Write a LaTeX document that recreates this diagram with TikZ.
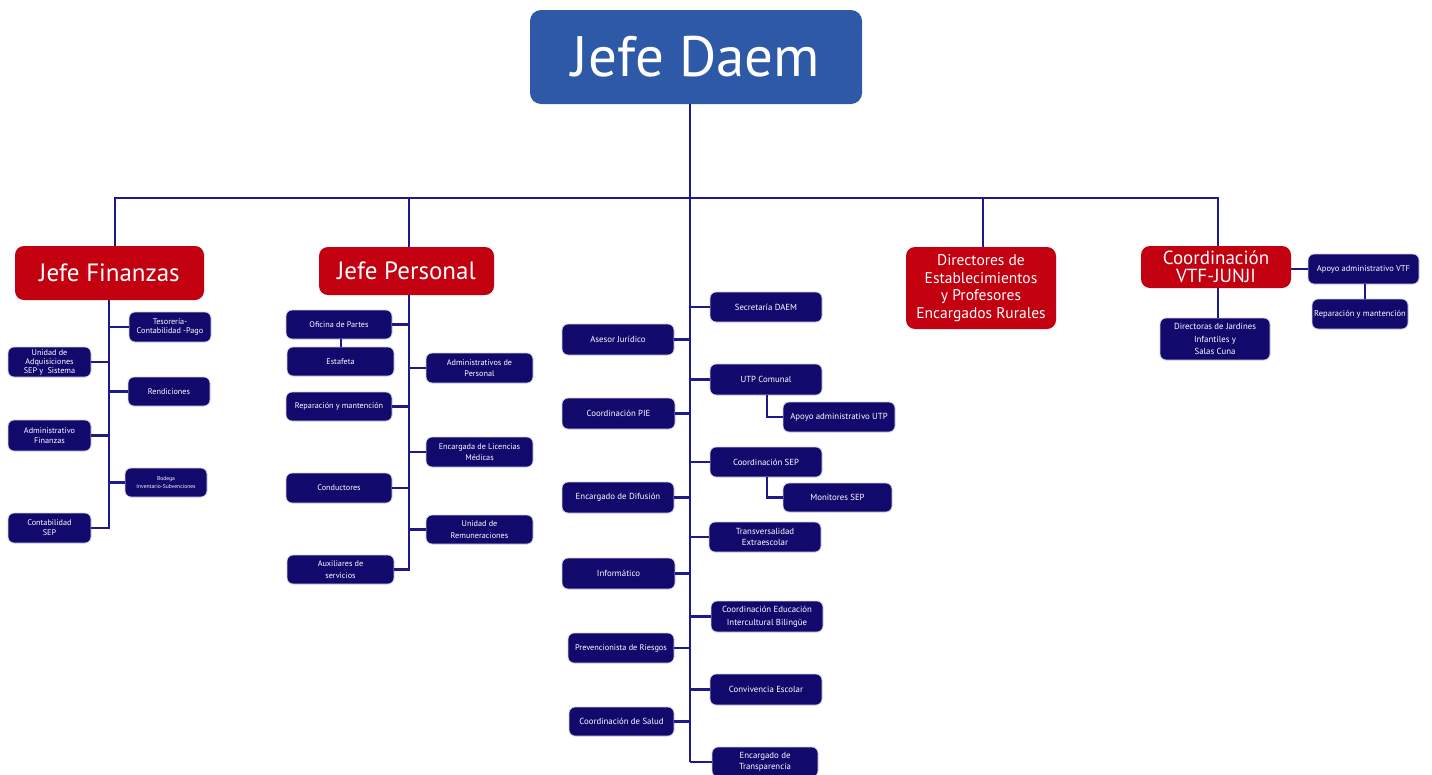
\documentclass[tikz,border=0pt]{standalone}
\usepackage{fontspec}
\setmainfont{PT Sans}
\definecolor{navy}{HTML}{12096C}
\definecolor{lnavy}{HTML}{1E1A8C}
\definecolor{dred}{HTML}{C2000F}
\definecolor{dblue}{HTML}{2E59A7}
\tikzset{
  nbox/.style={draw=white!80!lnavy, line width=0.8pt, fill=navy, rounded corners=6pt, text=white, align=center, inner sep=1pt, outer sep=0pt, font=\fontsize{8.8}{10.5}\selectfont},
  rbox/.style={fill=dred, rounded corners=9pt, text=white, align=center, inner sep=1pt, outer sep=0pt},
  bbox/.style={fill=dblue, rounded corners=11pt, text=white, align=center, inner sep=1pt, outer sep=0pt},
  trunk/.style={draw=lnavy, line width=2.9pt},
  bus/.style={draw=lnavy, line width=2.2pt},
}
\newcommand\boxat[7]{\node[#1, minimum width={#5-#3}, minimum height={#6-#4}] (#2) at ({(#3+#5)/2},{(#4+#6)/2}) {#7};}
\begin{document}
\begin{tikzpicture}[x=1pt,y=-1pt]
\useasboundingbox (0,0) rectangle (1432,774);
% top
\boxat{bbox, font=\fontsize{57}{60}\selectfont}{daem}{530}{10}{862}{104}{Jefe Daem}
% level 1
\boxat{rbox, font=\fontsize{25}{27}\selectfont}{fin}{15}{246}{204}{300}{Jefe Finanzas}
\boxat{rbox, font=\fontsize{25}{27}\selectfont}{per}{319}{247}{494}{295}{Jefe Personal}
\boxat{rbox, font=\fontsize{15.5}{17.5}\selectfont}{dir}{906}{247}{1056}{329}{Directores de\\Establecimientos\\y Profesores\\Encargados Rurales}
\boxat{rbox, font=\fontsize{19}{18.5}\selectfont}{vtf}{1141}{246}{1291}{288}{Coordinación\\VTF-JUNJI}
% finanzas children
\boxat{nbox, font=\fontsize{8.2}{9.5}\selectfont}{tes}{129}{312}{211}{342}{Tesorería-\\Contabilidad -Pago}
\boxat{nbox, font=\fontsize{8.2}{9.5}\selectfont}{ren}{128}{377}{210}{406}{Rendiciones}
\boxat{nbox, font=\fontsize{5.6}{7.5}\selectfont}{bod}{125}{468}{207}{497}{Bodega\\Inventario-Subvenciones}
\boxat{nbox, font=\fontsize{8.2}{9}\selectfont}{uad}{8}{347}{91}{377}{Unidad de\\Adquisiciones\\SEP y\ \ Sistema}
\boxat{nbox, font=\fontsize{8.2}{10}\selectfont}{adf}{8}{420}{91}{451}{Administrativo\\Finanzas}
\boxat{nbox, font=\fontsize{8.2}{10}\selectfont}{csep}{8}{513}{91}{543}{Contabilidad\\SEP}
% personal children
\boxat{nbox, font=\fontsize{8.2}{10}\selectfont}{ofp}{286}{310}{392}{339}{Oficina de Partes}
\boxat{nbox, font=\fontsize{8.2}{10}\selectfont}{est}{287}{347}{394}{376}{Estafeta}
\boxat{nbox, font=\fontsize{8.2}{10}\selectfont}{rep}{286}{392}{392}{421}{Reparación y mantención}
\boxat{nbox, font=\fontsize{8.2}{10}\selectfont}{con}{286}{473}{392}{503}{Conductores}
\boxat{nbox, font=\fontsize{8.2}{12}\selectfont}{aux}{287}{555}{394}{584}{Auxiliares de\\servicios}
\boxat{nbox, font=\fontsize{8.2}{11.5}\selectfont}{adp}{426}{353}{533}{383}{Administrativos de\\Personal}
\boxat{nbox, font=\fontsize{8.2}{11.5}\selectfont}{lic}{426}{437}{533}{467}{Encargada de Licencias\\Médicas}
\boxat{nbox, font=\fontsize{8.2}{11.5}\selectfont}{rem}{426}{515}{533}{544}{Unidad de\\Remuneraciones}
% center children right
\boxat{nbox}{sec}{710}{292}{822}{322}{Secretaría DAEM}
\boxat{nbox}{utp}{710}{364}{822}{395}{UTP Comunal}
\boxat{nbox}{autp}{783}{402}{895}{432}{Apoyo administrativo UTP}
\boxat{nbox}{csp}{710}{447}{822}{477}{Coordinación SEP}
\boxat{nbox}{mon}{783}{483}{892}{512}{Monitores SEP}
\boxat{nbox, font=\fontsize{8.8}{11.5}\selectfont}{tra}{709}{522}{821}{552}{Transversalidad\\Extraescolar}
\boxat{nbox, font=\fontsize{8.8}{13}\selectfont}{eib}{711}{601}{823}{632}{Coordinación Educación\\Intercultural Bilingüe}
\boxat{nbox}{cve}{710}{674}{822}{705}{Convivencia Escolar}
\boxat{nbox, font=\fontsize{8.8}{11.5}\selectfont}{trp}{712}{747}{818}{777}{Encargado de\\Transparencia}
% center children left
\boxat{nbox}{ase}{562}{324}{674}{355}{Asesor Jurídico}
\boxat{nbox}{pie}{562}{398}{675}{429}{Coordinación PIE}
\boxat{nbox}{dif}{562}{482}{674}{513}{Encargado de Difusión}
\boxat{nbox}{inf}{562}{558}{675}{589}{Informático}
\boxat{nbox, font=\fontsize{8.3}{10}\selectfont}{pre}{568}{633}{674}{663}{Prevencionista de Riesgos}
\boxat{nbox}{sal}{569}{707}{674}{736}{Coordinación de Salud}
% VTF children
\boxat{nbox, font=\fontsize{8.8}{12.5}\selectfont}{djar}{1160}{318}{1270}{360}{Directoras de Jardines\\Infantiles y\\Salas Cuna}
\boxat{nbox, font=\fontsize{8.5}{10}\selectfont}{avtf}{1308}{254}{1419}{284}{Apoyo administrativo VTF}
\boxat{nbox, font=\fontsize{8.5}{10}\selectfont}{rvtf}{1312}{299}{1408}{329}{Reparación y mantención}
% coordinates
\coordinate (bL) at (115,198);
\coordinate (bR) at (1218,198);
\coordinate (bP) at (409,198);
\coordinate (bD) at (983,198);
\coordinate (ctr) at (690,104);
\coordinate (fT) at (109,300);
\coordinate (pT) at (409,295);
\coordinate (uT) at (767,395);
\coordinate (sT) at (767,477);
% bus
\draw[bus] (bL |- fin.north) -- (bL) -- (bR) -- (bR |- vtf.north);
\draw[bus] (bP) -- (bP |- per.north);
\draw[bus] (bD) -- (bD |- dir.north);
\draw[bus] (ctr |- daem.south) -- (ctr |- trp.west);
% center trunk branches
\foreach \n in {sec,utp,csp,tra,eib,cve,trp} { \draw[trunk] (\n.west) -- (\n.west -| ctr); }
\foreach \n in {ase,pie,dif,inf,pre,sal} { \draw[trunk] (\n.east) -- (\n.east -| ctr); }
\draw[trunk] (uT |- utp.south) -- (uT |- autp.west) -- (autp.west);
\draw[trunk] (sT |- csp.south) -- (sT |- mon.west) -- (mon.west);
% finanzas
\draw[trunk] (fT |- fin.south) -- (fT |- csep.east) -- (csep.east);
\foreach \n in {tes,ren,bod} { \draw[trunk] (\n.west) -- (\n.west -| fT); }
\foreach \n in {uad,adf} { \draw[trunk] (\n.east) -- (\n.east -| fT); }
% personal
\draw[trunk] (pT |- per.south) -- (pT |- aux.east) -- (aux.east);
\foreach \n in {adp,lic,rem} { \draw[trunk] (\n.west) -- (\n.west -| pT); }
\foreach \n in {ofp,rep,con} { \draw[trunk] (\n.east) -- (\n.east -| pT); }
\coordinate (oe) at (341,339);
\draw[trunk] (oe |- ofp.south) -- (oe |- est.north);
% vtf
\draw[trunk] (bR |- vtf.south) -- (bR |- djar.north);
\draw[trunk] (vtf.east |- avtf.west) -- (avtf.west);
\coordinate (rv) at (1365,284);
\draw[trunk] (rv |- avtf.south) -- (rv |- rvtf.north);
\end{tikzpicture}
\end{document}
